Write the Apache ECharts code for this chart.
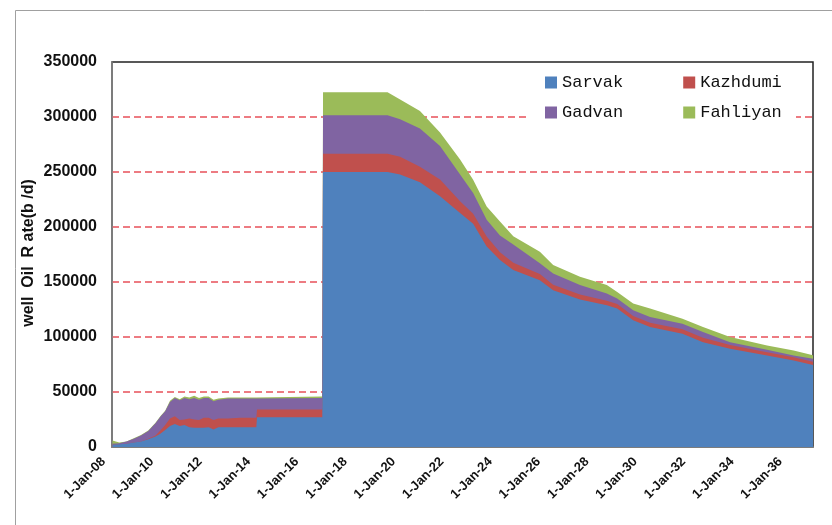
<!DOCTYPE html>
<html>
<head>
<meta charset="utf-8">
<script src="https://cdn.jsdelivr.net/npm/echarts@6/dist/echarts.min.js"></script>
<style>
  html, body { margin: 0; padding: 0; background: #fff; }
  #chart { width: 832px; height: 525px; }
</style>
</head>
<body>
<div id="chart"></div>
<script>
// decimal years (x positions of the data points)
const years = [
  2008.02, 2008.3, 2008.6, 2008.9, 2009.2, 2009.5, 2009.8, 2010.0, 2010.2, 2010.4, 2010.6, 2010.8,
  2011.0, 2011.2, 2011.4, 2011.6, 2011.8, 2012.0, 2012.2, 2012.4, 2012.8, 2013.3, 2013.97,
  2014.0, 2016.70,
  2016.73, 2019.4, 2019.92, 2020.74, 2021.57, 2022.4, 2022.94, 2023.5, 2024.05, 2024.6, 2025.7,
  2026.25, 2027.36, 2028.47, 2028.9, 2029.56, 2030.26, 2031.6, 2032.45, 2033.57, 2035.1, 2036.2, 2037.0
];
const sarvak = [
  2000, 2500, 3000, 4000, 5000, 7000, 9500, 12000, 15500, 19000, 21000, 19000,
  20000, 18000, 17500, 17500, 17500, 18000, 16000, 18000, 18000, 18000, 18000,
  27000, 27000,
  250000, 250000, 247700, 240700, 227900, 212700, 203000, 182200, 170000, 160900, 151700,
  142600, 134100, 128900, 125900, 115200, 109000, 103000, 95300, 89300, 83200, 78600, 74500
];
const kazhdumi = [
  0, 0, 0, 0, 0, 500, 1000, 3000, 4500, 7000, 7000, 5500,
  5000, 8000, 7500, 7000, 9000, 8500, 8500, 8000, 8000, 8500, 8500,
  7000, 7000,
  16500, 16500, 16200, 14000, 15200, 10600, 9000, 9100, 7000, 6500, 5500,
  5000, 4500, 4000, 4000, 4000, 4000, 4000, 4000, 3500, 3000, 3000, 3000
];
const gadvan = [
  1000, 1000, 2000, 3500, 5500, 7000, 11000, 12500, 12500, 15000, 16500, 18000,
  19500, 17500, 19500, 18500, 18000, 18000, 17000, 17000, 18000, 17500, 17500,
  10500, 10500,
  35000, 35000, 34100, 34800, 30500, 24400, 19000, 15300, 15200, 16700, 9800,
  10200, 8600, 6700, 5100, 5100, 5200, 5100, 5200, 2500, 2200, 1600, 2700
];
const fahliyan = [
  3000, 500, 0, 500, 500, 500, 500, 500, 500, 1000, 1000, 1000,
  1500, 1500, 2000, 1500, 1500, 1500, 1500, 1000, 1000, 1000, 1000,
  1500, 1500,
  21000, 21000, 18000, 16000, 12200, 13700, 12000, 12100, 12700, 7600, 10600,
  7600, 7500, 7600, 6000, 6100, 7600, 4600, 4500, 4600, 3900, 4500, 3100
];
const seriesNames = ['Sarvak', 'Kazhdumi', 'Gadvan', 'Fahliyan'];
const seriesColors = ['#4F81BD', '#C0504D', '#8064A2', '#9BBB59'];

const values = [sarvak, kazhdumi, gadvan, fahliyan];
const gridRed = '#E8505A';

// stacked tops, built by hand (value x axis), painted from the top layer down
const tops = [];
values.forEach((arr, i) => {
  tops.push(arr.map((v, j) => v + (i > 0 ? tops[i - 1][j] : 0)));
});

let myChart = echarts.init(document.getElementById('chart'));
let option = {
  backgroundColor: '#fff',
  animation: false,
  grid: {
    left: 112, top: 62, right: 19, bottom: 78,
    show: true,
    borderColor: '#222',
    borderWidth: 1.5
  },
  graphic: [
    {
      type: 'rect', z: -10, silent: true,
      shape: { x: 15.5, y: 10.5, width: 900, height: 600 },
      style: { fill: 'none', stroke: '#a0a0a0', lineWidth: 1 }
    },
    {
      type: 'rect', z: 1, silent: true,
      shape: { x: 527, y: 65, width: 269, height: 63 },
      style: { fill: '#fff' }
    },
    {
      type: 'text', z: 5, silent: true,
      x: 29, y: 253, rotation: Math.PI / 2,
      style: {
        text: 'well  Oil  R ate(b /d)',
        fontFamily: 'Liberation Sans, Arial',
        fontWeight: 'bold', fontSize: 16, fill: '#111',
        align: 'center', verticalAlign: 'middle'
      }
    }
  ],
  legend: [
    {
      data: ['Sarvak', 'Kazhdumi'],
      left: 545, top: 74, padding: 0,
      itemWidth: 12, itemHeight: 12, itemGap: 60,
      icon: 'rect',
      textStyle: { fontFamily: 'Liberation Mono', fontSize: 17, color: '#111' }
    },
    {
      data: ['Gadvan', 'Fahliyan'],
      left: 545, top: 104, padding: 0,
      itemWidth: 12, itemHeight: 12, itemGap: 60,
      icon: 'rect',
      textStyle: { fontFamily: 'Liberation Mono', fontSize: 17, color: '#111' }
    }
  ],
  xAxis: {
    type: 'value',
    min: 2008, max: 2037, interval: 2,
    axisLine: { show: true, lineStyle: { color: '#888', width: 1.5 } },
    axisTick: { show: false },
    splitLine: { show: false },
    axisLabel: {
      rotate: 45, margin: 4, showMaxLabel: false,
      padding: [0, 12, 0, 0],
      fontFamily: 'Liberation Sans, Arial', fontWeight: 'bold', fontSize: 13, color: '#111',
      formatter: v => '1-Jan-' + String(v % 100).padStart(2, '0')
    }
  },
  yAxis: {
    type: 'value',
    min: 0, max: 350000, interval: 50000,
    axisLine: { show: true, lineStyle: { color: '#888', width: 1.5 } },
    axisTick: { show: false },
    axisLabel: {
      margin: 15,
      fontFamily: 'Liberation Sans, Arial', fontWeight: 'bold', fontSize: 16, color: '#111',
      formatter: v => String(v)
    },
    splitLine: {
      show: true,
      showMinLine: false,
      showMaxLine: false,
      lineStyle: { type: [7, 4], width: 1.5, color: gridRed }
    }
  },
  series: [3, 2, 1, 0].map(i => ({
    name: seriesNames[i],
    type: 'line',
    data: years.map((x, j) => [x, tops[i][j]]),
    showSymbol: false,
    symbol: 'none',
    color: seriesColors[i],
    lineStyle: { width: 0 },
    areaStyle: { color: seriesColors[i], opacity: 1 },
    emphasis: { disabled: true }
  }))
};
myChart.setOption(option);
</script>
</body>
</html>
